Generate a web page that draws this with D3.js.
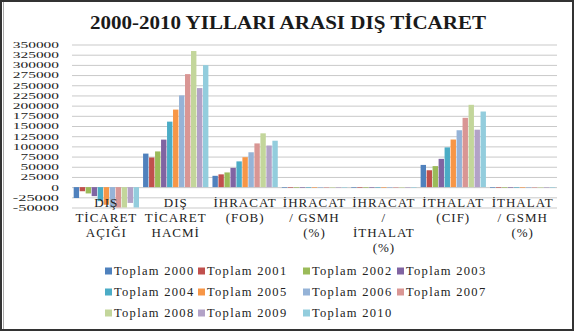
<!DOCTYPE html>
<html>
<head>
<meta charset="utf-8">
<script src="https://cdn.jsdelivr.net/npm/d3@7"></script>
<style>
  body { margin: 0; background: #fff; }
  text { font-family: "Liberation Serif", "Times New Roman", serif; }
</style>
</head>
<body>
<div id="app"></div>
<script>
(function (d3) {

  'use strict'

  // data
  const categories = [
    'DIŞ TİCARET AÇIĞI', 'DIŞ TİCARET HACMİ', 'İHRACAT (FOB)',
    'İHRACAT / GSMH (%)', 'İHRACAT / İTHALAT (%)', 'İTHALAT (CIF)', 'İTHALAT / GSMH (%)'
  ]
  const categoryLines = [
    ['DIŞ', 'TİCARET', 'AÇIĞI'],
    ['DIŞ', 'TİCARET', 'HACMİ'],
    ['İHRACAT', '(FOB)'],
    ['İHRACAT', '/ GSMH', '(%)'],
    ['İHRACAT', '/', 'İTHALAT', '(%)'],
    ['İTHALAT', '(CIF)'],
    ['İTHALAT', '/ GSMH', '(%)']
  ]
  const seriesNames = ['Toplam 2000', 'Toplam 2001', 'Toplam 2002', 'Toplam 2003', 'Toplam 2004',
    'Toplam 2005', 'Toplam 2006', 'Toplam 2007', 'Toplam 2008', 'Toplam 2009', 'Toplam 2010']
  // one array per category, 2000..2010
  const disTicaretAcigi = [-26728, -10065, -15495, -22087, -34373, -43298, -54041, -62791, -69936, -38786, -71661]
  const disTicaretHacmi = [82278, 72733, 87613, 116593, 160707, 190251, 225111, 277334, 333991, 243071, 299428]
  const ihracatFob = [27775, 31334, 36059, 47253, 63167, 73476, 85535, 107272, 132027, 102143, 113883]
  const ihracatGsmh = [13.9, 21.6, 19.6, 19.7, 21.1, 20.4, 21.4, 22.3, 23.8, 23.2, 20.7]
  const ihracatIthalat = [51.0, 75.7, 69.9, 68.1, 64.8, 62.9, 61.3, 63.1, 65.4, 72.5, 61.4]
  const ithalatCif = [54503, 41399, 51554, 69340, 97540, 116774, 139576, 170063, 201964, 140928, 185544]
  const ithalatGsmh = [27.3, 28.5, 28.0, 28.9, 32.5, 32.4, 35.0, 35.3, 36.4, 32.0, 33.8]
  const yTicks = [-50000, -25000, 0, 25000, 50000, 75000, 100000, 125000, 150000, 175000,
    200000, 225000, 250000, 275000, 300000, 325000, 350000]

  const values = [disTicaretAcigi, disTicaretHacmi, ihracatFob, ihracatGsmh, ihracatIthalat, ithalatCif, ithalatGsmh]
  const colors = ['#4F81BD', '#C0504D', '#9BBB59', '#8064A2', '#4BACC6', '#F79646',
    '#95B3D7', '#D99694', '#C3D69B', '#B2A2C7', '#93CDDD']

  // layout
  const w = 577
  const h = 336
  const left = 72
  const right = 557
  const top = 44.5
  const bottom = 207.5
  const legendCols = [105, 198, 303, 397]
  const legendRows = [271, 292, 313]

  const svg = d3.select('#app')
    .append('svg')
    .attr('width', w)
    .attr('height', h)

  // frame
  svg.append('rect')
    .attr('x', 1).attr('y', 1).attr('width', 572).attr('height', 329)
    .attr('fill', 'none').attr('stroke', '#333').attr('stroke-width', 2)
  svg.append('line')
    .attr('x1', 3.5).attr('x2', 3.5).attr('y1', 2).attr('y2', 329)
    .attr('stroke', '#aaa')

  // title
  svg.append('text')
    .attr('x', 288)
    .attr('y', 29)
    .attr('text-anchor', 'middle')
    .attr('textLength', 396)
    .attr('lengthAdjust', 'spacingAndGlyphs')
    .style('font-size', '19px')
    .style('font-weight', 'bold')
    .style('fill', '#1a1a1a')
    .text('2000-2010 YILLARI ARASI DIŞ TİCARET')

  const x0 = d3.scaleBand()
    .domain(categories)
    .range([left, right])
    .paddingInner(0.05)
    .paddingOuter(0.02)
  const x1 = d3.scaleBand()
    .domain(seriesNames)
    .range([0, x0.bandwidth()])
  const y = d3.scaleLinear()
    .domain([-50000, 350000])
    .range([bottom, top])
    .clamp(true)

  // gridlines
  svg.append('g')
    .attr('transform', 'translate(' + left + ',0)')
    .call(d3.axisLeft(y).tickValues(yTicks).tickSize(-(right - left)).tickFormat(''))
    .call(g => g.select('.domain').remove())
    .call(g => g.selectAll('line').attr('stroke', '#c9c9c9'))

  // y axis labels (narrow font, stretched wide like the original)
  svg.append('g')
    .attr('transform', 'translate(' + left + ',0)')
    .call(d3.axisLeft(y).tickValues(yTicks).tickSize(0).tickPadding(13).tickFormat(d => String(d)))
    .call(g => g.select('.domain').remove())
    .call(g => g.selectAll('text')
      .style('font-family', '"Liberation Serif", serif')
      .style('font-size', '9px')
      .attr('textLength', d => String(d).length * 7.7)
      .attr('lengthAdjust', 'spacingAndGlyphs')
      .attr('fill', '#1a1a1a'))

  // bars
  const groups = svg.append('g')
    .selectAll('g')
    .data(categories)
    .enter()
    .append('g')
    .attr('transform', d => 'translate(' + x0(d) + ',0)')

  groups.selectAll('rect')
    .data((d, i) => values[i].map((v, j) => ({ v: v, s: seriesNames[j], c: colors[j] })))
    .enter()
    .append('rect')
    .attr('x', d => x1(d.s) + 0.3)
    .attr('width', x1.bandwidth() - 0.6)
    .attr('y', d => Math.min(y(d.v), y(0)))
    .attr('height', d => Math.max(Math.abs(y(d.v) - y(0)), 0.6))
    .attr('fill', d => d.c)

  // category labels
  const labels = svg.append('g')
    .selectAll('text')
    .data(categories)
    .enter()
    .append('text')
    .attr('text-anchor', 'middle')
    .style('font-size', '13px')
    .style('letter-spacing', '1px')
    .style('fill', '#222')

  labels.each(function (d, i) {
    const cx = x0(d) + x0.bandwidth() / 2
    d3.select(this).selectAll('tspan')
      .data(categoryLines[i])
      .enter()
      .append('tspan')
      .attr('x', cx)
      .attr('y', (t, k) => 206.5 + k * 15)
      .text(t => t)
  })

  // legend
  const legend = svg.append('g')
    .selectAll('g')
    .data(seriesNames)
    .enter()
    .append('g')
    .attr('transform', (d, i) => 'translate(' + legendCols[i % 4] + ',' + legendRows[Math.floor(i / 4)] + ')')

  legend.append('rect')
    .attr('x', 0)
    .attr('y', -3.5)
    .attr('width', 7)
    .attr('height', 7)
    .attr('fill', (d, i) => colors[i])

  legend.append('text')
    .attr('x', 9)
    .attr('y', 4.3)
    .style('font-size', '12.5px')
    .style('letter-spacing', '1.3px')
    .style('fill', '#222')
    .text(d => d)

}(d3))
</script>
</body>
</html>
